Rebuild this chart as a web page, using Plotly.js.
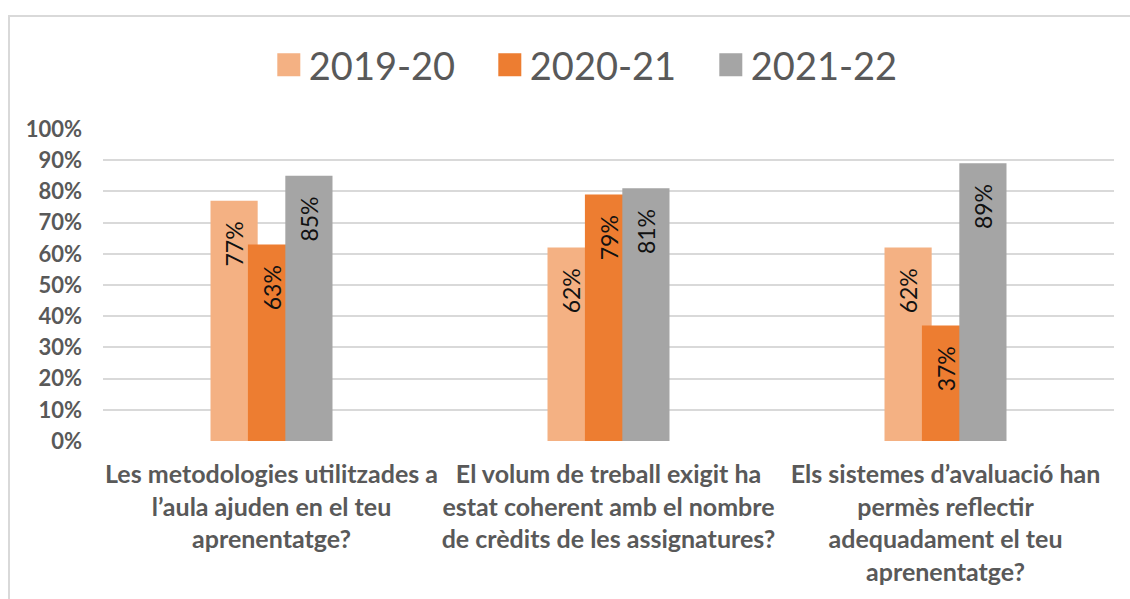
<!DOCTYPE html>
<html>
<head>
<meta charset="utf-8">
<script src="https://cdn.plot.ly/plotly-3.0.1.min.js"></script>
<style>
  html, body { margin: 0; padding: 0; background: #ffffff; }
  #wrap { position: relative; width: 1130px; height: 599px; }
  #chart { width: 1130px; height: 599px; }
  #frame { position: absolute; left: 8px; top: 15px; right: -2px; bottom: -2px;
           border-top: 2px solid #d9d9d9; border-left: 2px solid #d9d9d9; pointer-events: none; }
</style>
</head>
<body>
<div id="wrap"><div id="chart"></div><div id="frame"></div></div>
<script>
const categories = [
  "Les metodologies utilitzades a<br>l’aula ajuden en el teu<br>aprenentatge?",
  "El volum de treball exigit ha<br>estat coherent amb el nombre<br>de crèdits de les assignatures?",
  "Els sistemes d’avaluació han<br>permès reflectir<br>adequadament el teu<br>aprenentatge?"
];
const seriesNames = ["2019-20", "2020-21", "2021-22"];
const values2019_20 = [0.77, 0.62, 0.62];
const values2020_21 = [0.63, 0.79, 0.37];
const values2021_22 = [0.85, 0.81, 0.89];
const seriesColors = ["#F4B183", "#ED7D31", "#A5A5A5"];

const FONT = "Lato, 'Open Sans', sans-serif";
const allValues = [values2019_20, values2020_21, values2021_22];
const offsets = [-0.181, -0.070, 0.041];
const NB = "\u00a0\u00a0\u00a0";

const traces = allValues.map((vals, i) => ({
  type: "bar",
  name: seriesNames[i],
  x: categories,
  y: vals,
  width: 0.14,
  offset: offsets[i],
  marker: { color: seriesColors[i], line: { width: 0 } },
  texttemplate: "%{y:.0%}" + NB,
  textposition: "inside",
  insidetextanchor: "end",
  textangle: -90,
  constraintext: "none",
  insidetextfont: { family: FONT, size: 23, color: "#111111" },
  hoverinfo: "skip"
}));

const layout = {
  width: 1130, height: 599,
  margin: { l: 103, r: 16, t: 129, b: 158 },
  paper_bgcolor: "#ffffff",
  plot_bgcolor: "#ffffff",
  barmode: "group",
  showlegend: true,
  legend: {
    orientation: "h", x: 0.164, xanchor: "left", y: 1.205, yanchor: "middle",
    font: { family: FONT, size: 38, color: "#595959" },
    entrywidth: 176, entrywidthmode: "pixels",
    traceorder: "normal"
  },
  xaxis: {
    type: "category",
    showgrid: false, zeroline: false, showline: false, ticks: "",
    tickfont: { family: FONT, size: 25, color: "#595959", weight: "bold" },
    ticklabelstandoff: 16,
    fixedrange: true
  },
  yaxis: {
    range: [0, 1], dtick: 0.1, tickformat: ".0%",
    showgrid: true, gridcolor: "#d9d9d9", gridwidth: 2,
    zeroline: false, showline: false, ticks: "",
    tickfont: { family: FONT, size: 22, color: "#595959", weight: "bold" },
    ticklabelstandoff: 20,
    fixedrange: true
  }
};

Plotly.newPlot("chart", traces, layout, { displayModeBar: false, staticPlot: true }).then(() => {
  document.querySelectorAll(".legendpoints path").forEach(p => {
    p.setAttribute("d", "M11.5,11.5H-11.5V-11.5H11.5Z");
  });
});
</script>
</body>
</html>
